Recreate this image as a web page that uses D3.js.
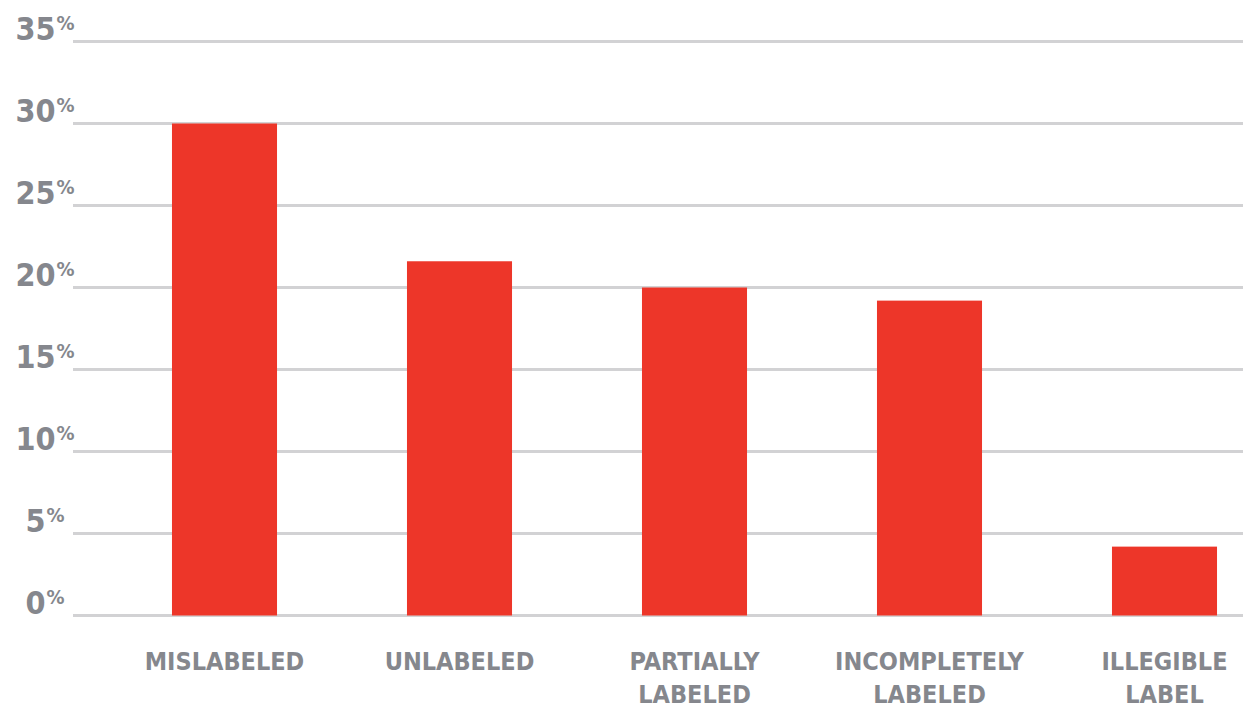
<!DOCTYPE html>
<html>
<head>
<meta charset="utf-8">
<script src="https://cdn.jsdelivr.net/npm/d3@7"></script>
<style>
  html, body { margin: 0; padding: 0; background: #fff; }
  text { font-family: "DejaVu Sans Condensed", "DejaVu Sans", sans-serif; font-weight: bold; fill: #85878d; }
</style>
</head>
<body>
<div id="chart"></div>
<script>
// data
const categories = ["MISLABELED", "UNLABELED", "PARTIALLY LABELED", "INCOMPLETELY LABELED", "ILLEGIBLE LABEL"];
const values = [30, 21.6, 20, 19.2, 4.2];
const yTicks = [0, 5, 10, 15, 20, 25, 30, 35];

const width = 1243;
const height = 710;

const svg = d3
  .select("#chart")
  .append("svg")
  .attr("width", width)
  .attr("height", height)
  .attr("viewBox", [0, 0, width, height]);

const y = d3.scaleLinear().domain([0, 35]).range([615.5, 41.5]);

const x = d3
  .scaleBand()
  .domain(categories)
  .range([107, 1282])
  .paddingInner(0.553)
  .paddingOuter(0.2765);

// gridlines
svg
  .append("g")
  .selectAll("line")
  .data(yTicks)
  .join("line")
  .attr("x1", 73)
  .attr("x2", width)
  .attr("y1", (d) => y(d))
  .attr("y2", (d) => y(d))
  .attr("stroke", "#d2d2d4")
  .attr("stroke-width", 3);

// y labels: digits plus a small raised percent sign
svg
  .append("g")
  .selectAll("text")
  .data(yTicks)
  .join("text")
  .attr("x", 45)
  .attr("y", (d) => y(d) - 2)
  .attr("text-anchor", "middle")
  .style("font-size", "32px")
  .each(function (d) {
    const t = d3.select(this);
    t.append("tspan").text(d);
    t.append("tspan")
      .attr("dx", 1)
      .attr("dy", -10)
      .style("font-size", "20px")
      .text("%");
  });

// bars
svg
  .append("g")
  .attr("fill", "#ed3629")
  .selectAll("rect")
  .data(values)
  .join("rect")
  .attr("x", (d, i) => x(categories[i]))
  .attr("y", (d) => y(d))
  .attr("width", x.bandwidth())
  .attr("height", (d) => y(0) - y(d));

// category labels, split on space into two lines
svg
  .append("g")
  .selectAll("text")
  .data(categories)
  .join("text")
  .attr("text-anchor", "middle")
  .attr("x", (d) => x(d) + x.bandwidth() / 2)
  .attr("y", 670)
  .style("font-size", "25px")
  .each(function (d) {
    const t = d3.select(this);
    d.split(" ").forEach((w, i) => {
      t.append("tspan")
        .attr("x", x(d) + x.bandwidth() / 2)
        .attr("dy", i === 0 ? 0 : 33)
        .text(w);
    });
  });
</script>
</body>
</html>
